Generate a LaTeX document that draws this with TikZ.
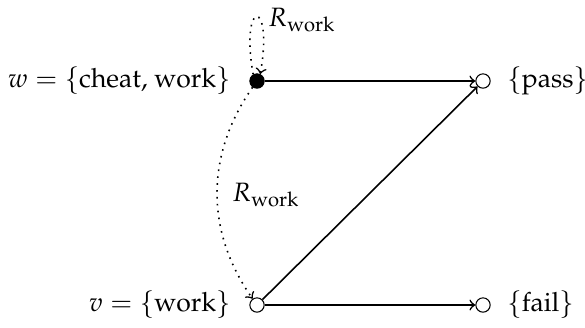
\documentclass[tikz,border=0pt]{standalone}
\usepackage[T1]{fontenc}
\usepackage{mathpazo}
\usepackage{amsmath}
\usepackage{tikz}

\begin{document}
\begin{tikzpicture}[x=0.377pt, y=-0.377pt,
  world/.style={circle, draw, inner sep=0pt, minimum size=5.4pt},
  actual/.style={world, fill=black},
  trans/.style={->, semithick},
  rel/.style={->, dotted, semithick}]
  \useasboundingbox (0,0) rectangle (585,327);
  % worlds
  \node[actual] (w) at (257,81) {};
  \node[world] (v) at (257,305) {};
  \node[world] (pass) at (483,81) {};
  \node[world] (fail) at (483,305) {};
  % world labels
  \node[anchor=east] (wlab) at (240,81) {$w = \{\text{cheat, work}\}$};
  \node[anchor=east] (vlab) at (240,305) {$v = \{\text{work}\}$};
  \node[anchor=west] (passlab) at (498,81) {$\{\text{pass}\}$};
  \node[anchor=west] (faillab) at (498,305) {$\{\text{fail}\}$};
  % transitions
  \draw[trans] (w) -- (pass);
  \draw[trans] (v) -- (pass);
  \draw[trans] (v) -- (fail);
  % accessibility
  \draw[rel] (w.120) .. controls +(-100:78) and +(-80:78) .. (w.65);
  \draw[rel] (w) to[bend right=35] (v);
  \node[anchor=west] (rtop) at (259,20) {$R_{\text{work}}$};
  \node[anchor=west] (rmid) at (223,195) {$R_{\text{work}}$};
\end{tikzpicture}
\end{document}
